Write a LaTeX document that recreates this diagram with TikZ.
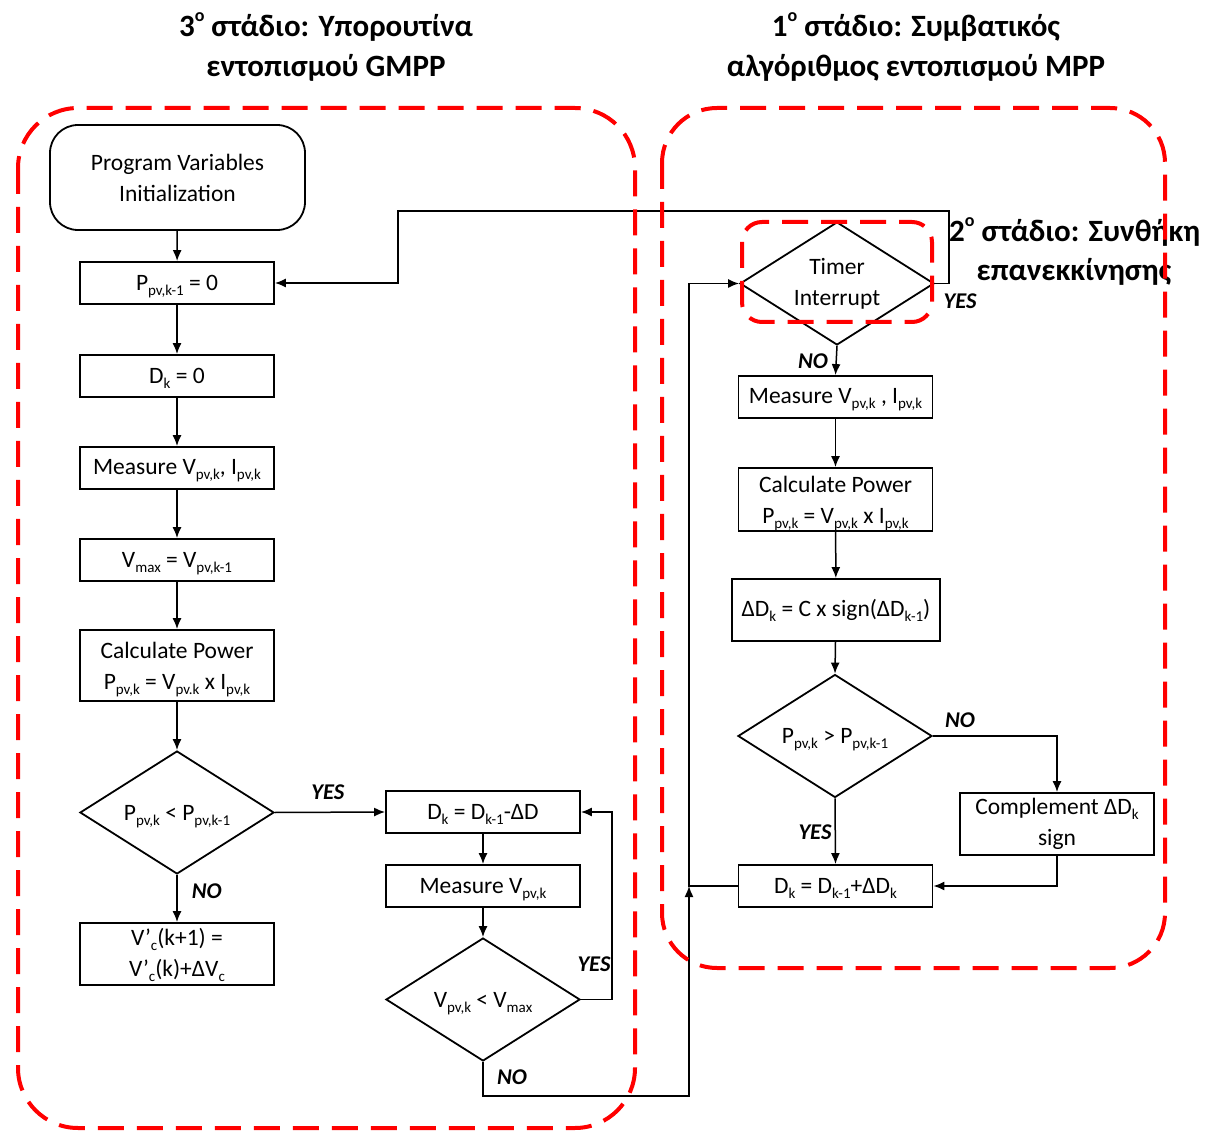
\documentclass[tikz,border=0pt]{standalone}
\usepackage{fontspec}
\setmainfont{Carlito}
\usetikzlibrary{shapes.geometric,arrows.meta}
\newcommand\lo[1]{\smash{\raisebox{-0.22em}{\fontsize{15}{15}\selectfont #1}}}
\newcommand\upo[1]{\raisebox{0.5em}{\fontsize{18}{18}\selectfont #1}}
\newcommand\fs{\fontsize{23.5}{31}\selectfont}
\tikzset{
  box/.style={draw, line width=1.8pt, minimum width=194pt, minimum height=42pt, inner sep=0pt, align=center, font=\fs},
  dec/.style={diamond, draw, line width=1.8pt, minimum width=194pt, minimum height=123pt, aspect=1.58, inner sep=0pt, align=center, font=\fs},
  lbl/.style={font=\fontsize{22.5}{24}\selectfont\bfseries\itshape, inner sep=0pt},
  ttl/.style={font=\fontsize{31}{40}\selectfont\bfseries, align=center, inner sep=0pt},
  conn/.style={line width=1.5pt, -{Latex[length=11pt,width=9pt]}},
  reddash/.style={draw=red, line width=4pt, dash pattern=on 26pt off 13pt},
}
\begin{document}
\begin{tikzpicture}[x=1pt,y=-1pt]
\useasboundingbox (0,0) rectangle (1211,1131);
% titles
\node[ttl] (t3) at (326,47) {3\upo{o} στάδιο: Υπορουτίνα\\εντοπισμού GMPP};
\node[ttl] (t1) at (916,47) {1\upo{o} στάδιο: Συμβατικός\\αλγόριθμος εντοπισμού MPP};
\node[ttl, anchor=west] (t2a) at (949,232) {2\upo{o} στάδιο: Συνθήκη};
\node[ttl] (t2b) at (1074,272) {επανεκκίνησης};
% left column
\node[box, rounded corners=28pt, minimum width=255pt, minimum height=105pt] (start) at (177.5,177.5) {Program Variables\\Initialization};
\node[box] (p0) at (177,283) {P\lo{pv,k-1} = 0};
\node[box] (dk0) at (177,376) {D\lo{k} = 0};
\node[box] (meas) at (177,468) {Measure V\lo{pv,k}, I\lo{pv,k}};
\node[box] (vmax) at (177,560) {V\lo{max} = V\lo{pv,k-1}};
\node[box, minimum height=71pt] (calc) at (177,665.5) {Calculate Power\\P\lo{pv,k} = V\lo{pv.k} x I\lo{pv,k}};
\node[dec] (dec1) at (177,812.5) {P\lo{pv,k} < P\lo{pv,k-1}};
\node[box, minimum height=62pt] (vc) at (177,954) {V’\lo{c}(k+1) =\\V’\lo{c}(k)+ΔV\lo{c}};
% middle column
\node[box] (dkm) at (483,812) {D\lo{k} = D\lo{k-1}-ΔD};
\node[box] (measv) at (483,886) {Measure V\lo{pv,k}};
\node[dec] (dec2) at (483,999.5) {V\lo{pv,k} < V\lo{max}};
% right column
\node[dec] (timer) at (837,283.5) {Timer\\Interrupt};
\node[box] (mr) at (835.5,397) {Measure V\lo{pv,k} , I\lo{pv,k}};
\node[box, minimum height=63pt] (cr) at (835.5,499.5) {Calculate Power\\P\lo{pv,k} = V\lo{pv,k} x I\lo{pv,k}};
\node[box, minimum width=208pt, minimum height=62pt] (ddk) at (836,610) {ΔD\lo{k} = C x sign(ΔD\lo{k-1})};
\node[dec] (dec3) at (835,736) {P\lo{pv,k} > P\lo{pv,k-1}};
\node[box, minimum height=62pt] (comp) at (1057,824) {Complement ΔD\lo{k}\\sign};
\node[box] (dkr) at (835.5,886) {D\lo{k} = D\lo{k-1}+ΔD\lo{k}};
% helper coordinates
\coordinate (j) at (689,886);
\coordinate (fb) at (398,211);
% connectors left
\draw[conn] (start) -- (p0);
\draw[conn] (p0) -- (dk0);
\draw[conn] (dk0) -- (meas);
\draw[conn] (meas) -- (vmax);
\draw[conn] (vmax) -- (calc);
\draw[conn] (calc) -- (dec1);
\draw[conn] (dec1.south) -- node[lbl, pos=0.35, right=14pt] (no1) {NO} (vc.north);
\draw[conn] (dec1.east) -- node[lbl, above=12pt, pos=0.48] (yes1) {YES} (dkm.west);
\draw[conn] (dkm) -- (measv);
\draw[conn] (measv) -- (dec2.north);
\draw[conn] (dec2.east) -- ++(31,0) |- (dkm.east);
\node[lbl] (yes2) at (594,964) {YES};
\draw[conn] (dec2.south) -- ++(0,34) -| (j);
\node[lbl] (no2) at (512,1077) {NO};
% connectors right
\draw[conn] (dkr.west) -- (j) |- (timer.west);
\draw[conn] (timer.east) -- ++(14,0) |- (fb) |- (p0.east);
\node[lbl] (yes3) at (960,301) {YES};
\draw[conn] (timer.south) -- (mr.north);
\node[lbl] (no3) at (813,361) {NO};
\draw[conn] (mr) -- (cr);
\draw[conn] (cr) -- (ddk);
\draw[conn] (ddk) -- (dec3.north);
\draw[conn] (dec3.east) -| (comp.north);
\node[lbl] (no4) at (960,720) {NO};
\draw[conn] (dec3.south) -- (dkr.north);
\node[lbl] (yes4) at (815,832) {YES};
\draw[conn] (comp.south) |- (dkr.east);
% red dashed regions
\draw[reddash, rounded corners=60pt] (18,108) rectangle (635,1128);
\draw[reddash, rounded corners=55pt] (662,108) rectangle (1165,968);
\draw[reddash, rounded corners=20pt] (742,222) rectangle (932,322);
\end{tikzpicture}
\end{document}
